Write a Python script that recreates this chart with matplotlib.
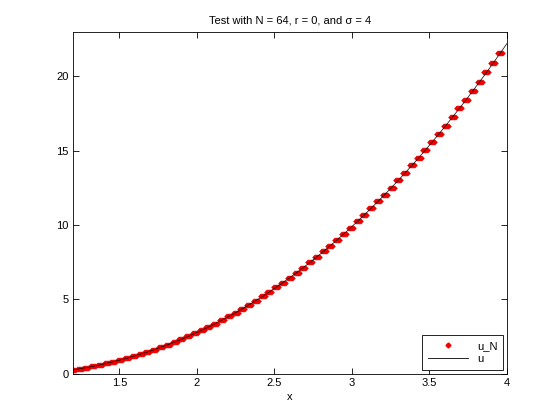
import matplotlib
matplotlib.use("Agg")
import matplotlib.pyplot as plt
from matplotlib.lines import Line2D

plt.rcParams['font.family'] = ['Liberation Sans', 'DejaVu Sans']

# exact solution u sampled on the grid (x from 1.2 to 4)
x = [1.2, 1.24375, 1.2875, 1.33125, 1.375, 1.41875, 1.4625, 1.50625, 1.55, 1.59375,
     1.6375, 1.68125, 1.725, 1.76875, 1.8125, 1.85625, 1.9, 1.94375, 1.9875, 2.03125,
     2.075, 2.11875, 2.1625, 2.20625, 2.25, 2.29375, 2.3375, 2.38125, 2.425, 2.46875,
     2.5125, 2.55625, 2.6, 2.64375, 2.6875, 2.73125, 2.775, 2.81875, 2.8625, 2.90625,
     2.95, 2.99375, 3.0375, 3.08125, 3.125, 3.16875, 3.2125, 3.25625, 3.3, 3.34375,
     3.3875, 3.43125, 3.475, 3.51875, 3.5625, 3.60625, 3.65, 3.69375, 3.7375, 3.78125,
     3.825, 3.86875, 3.9125, 3.95625, 4.0]
u = [0.2625, 0.3374, 0.4189, 0.5071, 0.6021, 0.7040, 0.8131, 0.9294, 1.0529, 1.1839,
     1.3224, 1.4685, 1.6224, 1.7841, 1.9537, 2.1313, 2.3171, 2.5110, 2.7133, 2.9239,
     3.1429, 3.3705, 3.6067, 3.8517, 4.1053, 4.3679, 4.6393, 4.9197, 5.2093, 5.5080,
     5.8157, 6.1328, 6.4593, 6.7951, 7.1404, 7.4952, 7.8596, 8.2337, 8.6175, 9.0110,
     9.4144, 9.8277, 10.2508, 10.6840, 11.1273, 11.5806, 12.0441, 12.5178, 13.0018, 13.4961,
     14.0007, 14.5158, 15.0413, 15.5773, 16.1240, 16.6812, 17.2490, 17.8275, 18.4166, 19.0169,
     19.6279, 20.2497, 20.8825, 21.5261, 22.1807]

# numerical solution u_N (64 points)
xN = x[:64]
uN = [0.2625, 0.3374, 0.4189, 0.5071, 0.6021, 0.7040, 0.8131, 0.9294, 1.0529, 1.1839,
      1.3224, 1.4685, 1.6224, 1.7841, 1.9537, 2.1313, 2.3171, 2.5110, 2.7133, 2.9239,
      3.1429, 3.3705, 3.6067, 3.8517, 4.1053, 4.3679, 4.6393, 4.9197, 5.2093, 5.5080,
      5.8157, 6.1328, 6.4593, 6.7951, 7.1404, 7.4952, 7.8596, 8.2337, 8.6175, 9.0110,
      9.4144, 9.8277, 10.2508, 10.6840, 11.1273, 11.5806, 12.0441, 12.5178, 13.0018, 13.4961,
      14.0007, 14.5158, 15.0413, 15.5773, 16.1240, 16.6812, 17.2490, 17.8275, 18.4166, 19.0169,
      19.6279, 20.2497, 20.8825, 21.5261]

xticks = [1.5, 2, 2.5, 3, 3.5, 4]
xticklabels = ['1.5', '2', '2.5', '3', '3.5', '4']
yticks = [0, 5, 10, 15, 20]
yticklabels = ['0', '5', '10', '15', '20']

fig = plt.figure(figsize=(5.6, 4.2), dpi=100)
ax = fig.add_axes([0.13, 0.11, 0.775, 0.815])

blob = [(-1.0, 0.0), (-0.55, 0.5), (0.55, 0.5), (1.0, 0.0), (0.55, -0.5), (-0.55, -0.5), (-1.0, 0.0)]
ax.plot(xN, uN, linestyle='none', marker=blob, markersize=7, color='#f00000',
        markeredgecolor='#e00000', markeredgewidth=0.4, zorder=2)
ax.plot(x, u, color='black', linewidth=0.5, zorder=3)

ax.set_xlim(1.2, 4)
ax.set_ylim(0, 23)
ax.set_xticks(xticks)
ax.set_xticklabels(xticklabels)
ax.set_yticks(yticks)
ax.set_yticklabels(yticklabels)
ax.tick_params(direction='in', length=4, width=0.6, top=True, right=True,
               labelsize=8, pad=3)
for s in ax.spines.values():
    s.set_linewidth(0.6)

ax.set_xlabel('x', fontsize=8, labelpad=3)
ax.set_title('Test with N = 64, r = 0, and σ = 4', fontsize=8, pad=6)

handles = [Line2D([], [], linestyle='none', marker='D', markersize=2.5, color='#ee0000'),
           Line2D([], [], color='black', linewidth=0.6)]
leg = ax.legend(handles, ['u_N', 'u'], loc='lower right', fontsize=8, fancybox=False,
                edgecolor='black', framealpha=1, borderaxespad=0.35, handlelength=3.6,
                borderpad=0.5, labelspacing=0.3, handletextpad=0.8)
leg.get_frame().set_linewidth(0.6)

fig.savefig('out.png', dpi=100)
